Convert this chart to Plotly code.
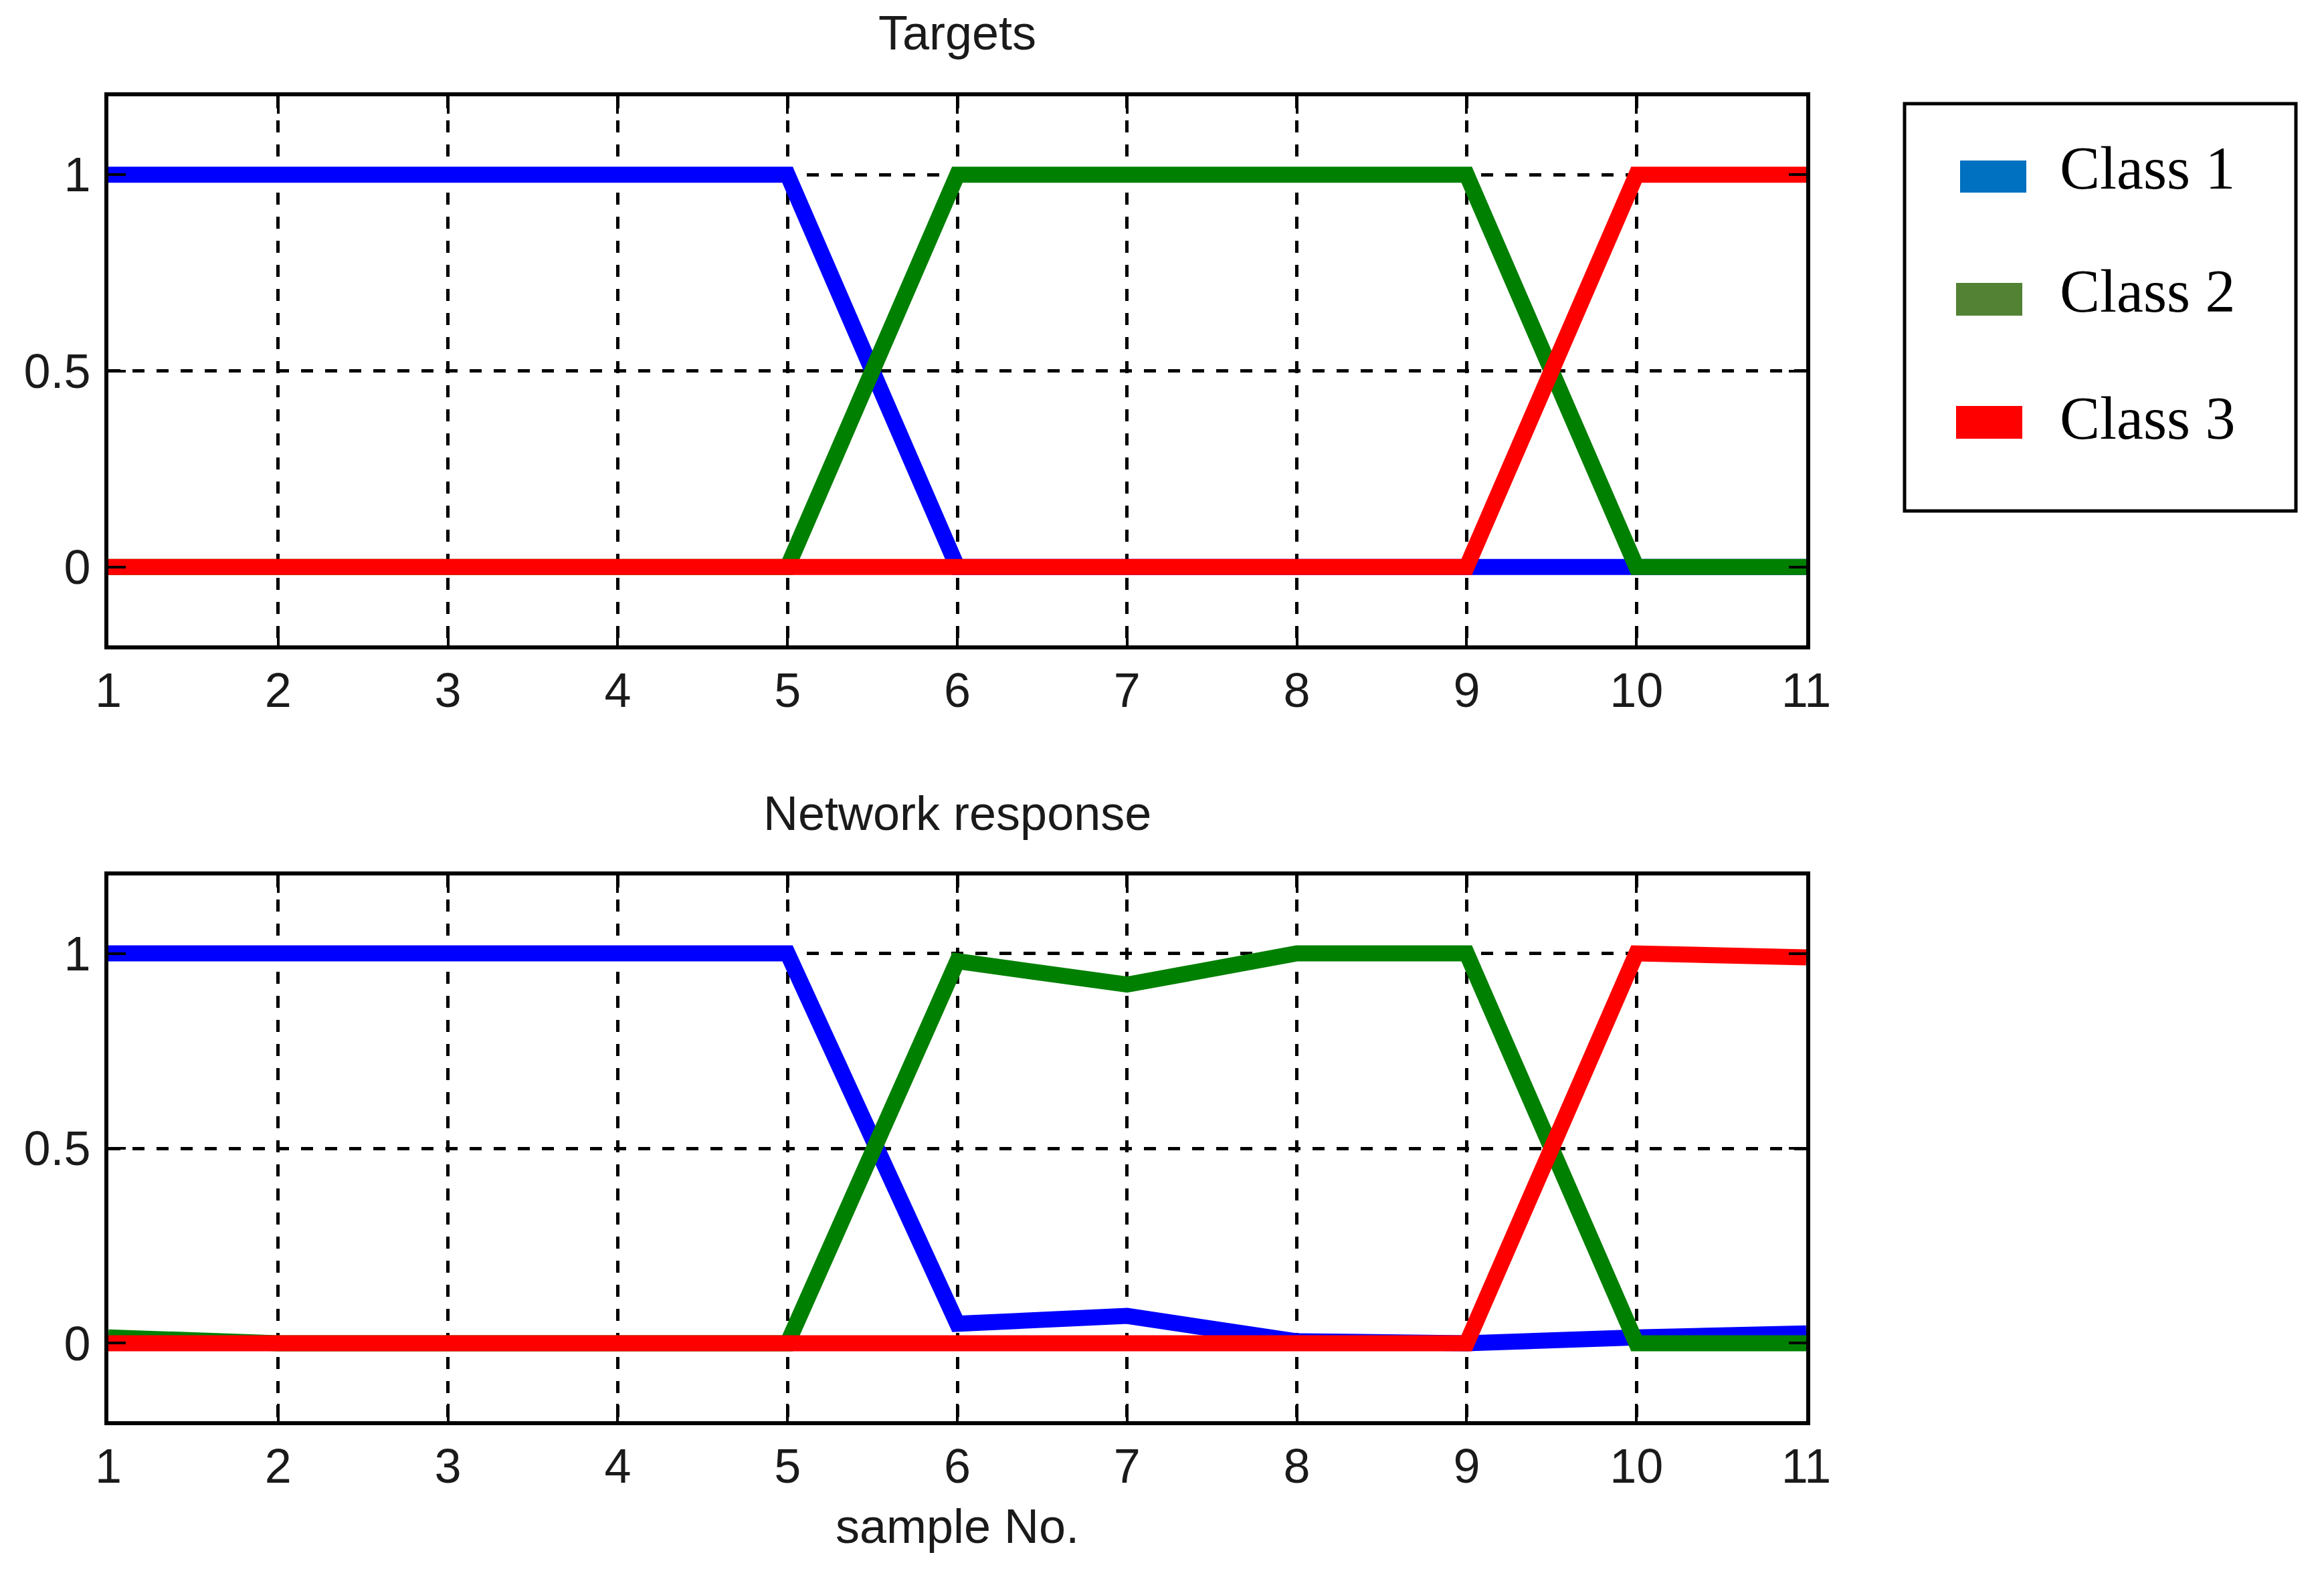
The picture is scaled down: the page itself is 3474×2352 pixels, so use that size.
import plotly.graph_objects as go

# ---------------- data ----------------
samples = list(range(1, 12))
x_ticks = list(range(1, 12))
y_ticks = [0, 0.5, 1]
y_tick_text = ["0", "0.5", "1"]

class_names = ["Class 1", "Class 2", "Class 3"]
line_colors = ["#0000FF", "#008000", "#FF0000"]
legend_colors = ["#0070C0", "#548235", "#FF0000"]

target_c1 = [1, 1, 1, 1, 1, 0, 0, 0, 0, 0, 0]
target_c2 = [0, 0, 0, 0, 0, 1, 1, 1, 1, 0, 0]
target_c3 = [0, 0, 0, 0, 0, 0, 0, 0, 0, 1, 1]

resp_c1 = [1, 1, 1, 1, 1, 0.05, 0.07, 0.005, 0.0, 0.015, 0.025]
resp_c2 = [0.015, 0.0, 0, 0, 0, 0.98, 0.92, 1.0, 1.0, 0.0, 0.0]
resp_c3 = [0, 0, 0, 0, 0, 0, 0, 0, 0, 1.0, 0.99]

titles = ["Targets", "Network response"]
x_title = "sample No."

# ---------------- figure ----------------
W, H = 3474, 2352
OFF = 8  # page body margin: figure origin sits at (8, 8) in the page
L, R, T, B = 162 - OFF, 2700 - OFF, 144 - OFF, 2125 - OFF   # plot-area pixel edges
PW, PH = R - L, B - T

def fy(py):
    return (B - (py - OFF)) / PH

def fx(px):
    return ((px - OFF) - L) / PW

fig = go.Figure()

for data, ax in [((target_c1, target_c2, target_c3), ("x", "y")),
                 ((resp_c1, resp_c2, resp_c3), ("x2", "y2"))]:
    for vals, col, name in zip(data, line_colors, class_names):
        fig.add_trace(go.Scatter(
            x=samples, y=vals, mode="lines", name=name,
            line=dict(color=col, width=24),
            xaxis=ax[0], yaxis=ax[1], showlegend=False,
        ))

axis_font = dict(family="Liberation Sans, Arial, sans-serif", size=72, color="#1a1a1a")
common_x = dict(range=[1, 11], tickvals=x_ticks, ticktext=[str(v) for v in x_ticks],
                showgrid=True, gridcolor="black", gridwidth=5, griddash="18px,18px",
                zeroline=False, showline=True, linecolor="black", linewidth=6,
                mirror="ticks", ticks="inside", ticklen=26, tickwidth=4, tickcolor="black",
                tickfont=axis_font, ticklabelstandoff=0)
common_y = dict(range=[-0.2, 1.2], tickvals=y_ticks, ticktext=y_tick_text,
                showgrid=True, gridcolor="black", gridwidth=5, griddash="18px,18px",
                zeroline=False, showline=True, linecolor="black", linewidth=6,
                mirror="ticks", ticks="inside", ticklen=26, tickwidth=4, tickcolor="black",
                tickfont=axis_font, ticklabelstandoff=6)

top_dom = [fy(965), 1.0]
bot_dom = [0.0, fy(1309)]

fig.update_layout(
    width=W, height=H,
    margin=dict(l=L, r=W - R, t=T, b=H - B, pad=0),
    paper_bgcolor="white", plot_bgcolor="white",
    xaxis=dict(domain=[0, 1], anchor="y", **common_x),
    yaxis=dict(domain=top_dom, anchor="x", **common_y),
    xaxis2=dict(domain=[0, 1], anchor="y2", **common_x),
    yaxis2=dict(domain=bot_dom, anchor="x2", **common_y),
    showlegend=False,
)

annotations = []
# subplot titles and x label
for text, py in [(titles[0], 49), (titles[1], 1216), (x_title, 2282)]:
    annotations.append(dict(text=text, x=0.5, y=fy(py), xref="paper", yref="paper",
                            xanchor="center", yanchor="middle", showarrow=False,
                            font=dict(family="Liberation Sans, Arial, sans-serif",
                                      size=72, color="#1a1a1a")))

shapes = []
# legend box
shapes.append(dict(type="rect", xref="paper", yref="paper",
                   x0=fx(2847), x1=fx(3432), y0=fy(764), y1=fy(155),
                   line=dict(color="black", width=5), fillcolor="white", layer="above"))
sw_y = [(240, 288), (423, 472), (607, 656)]
sw_x = [(2930, 3029), (2924, 3023), (2924, 3023)]
txt_y = [251, 435, 625]
for i, name in enumerate(class_names):
    shapes.append(dict(type="rect", xref="paper", yref="paper",
                       x0=fx(sw_x[i][0]), x1=fx(sw_x[i][1]),
                       y0=fy(sw_y[i][1]), y1=fy(sw_y[i][0]),
                       line=dict(width=0), fillcolor=legend_colors[i], layer="above"))
    annotations.append(dict(text=name, x=fx(3077), y=fy(txt_y[i]), xref="paper", yref="paper",
                            xanchor="left", yanchor="middle", showarrow=False,
                            font=dict(family="Liberation Serif, Times New Roman, serif",
                                      size=90, color="black")))

fig.update_layout(annotations=annotations, shapes=shapes)

fig.write_html("out.html")
